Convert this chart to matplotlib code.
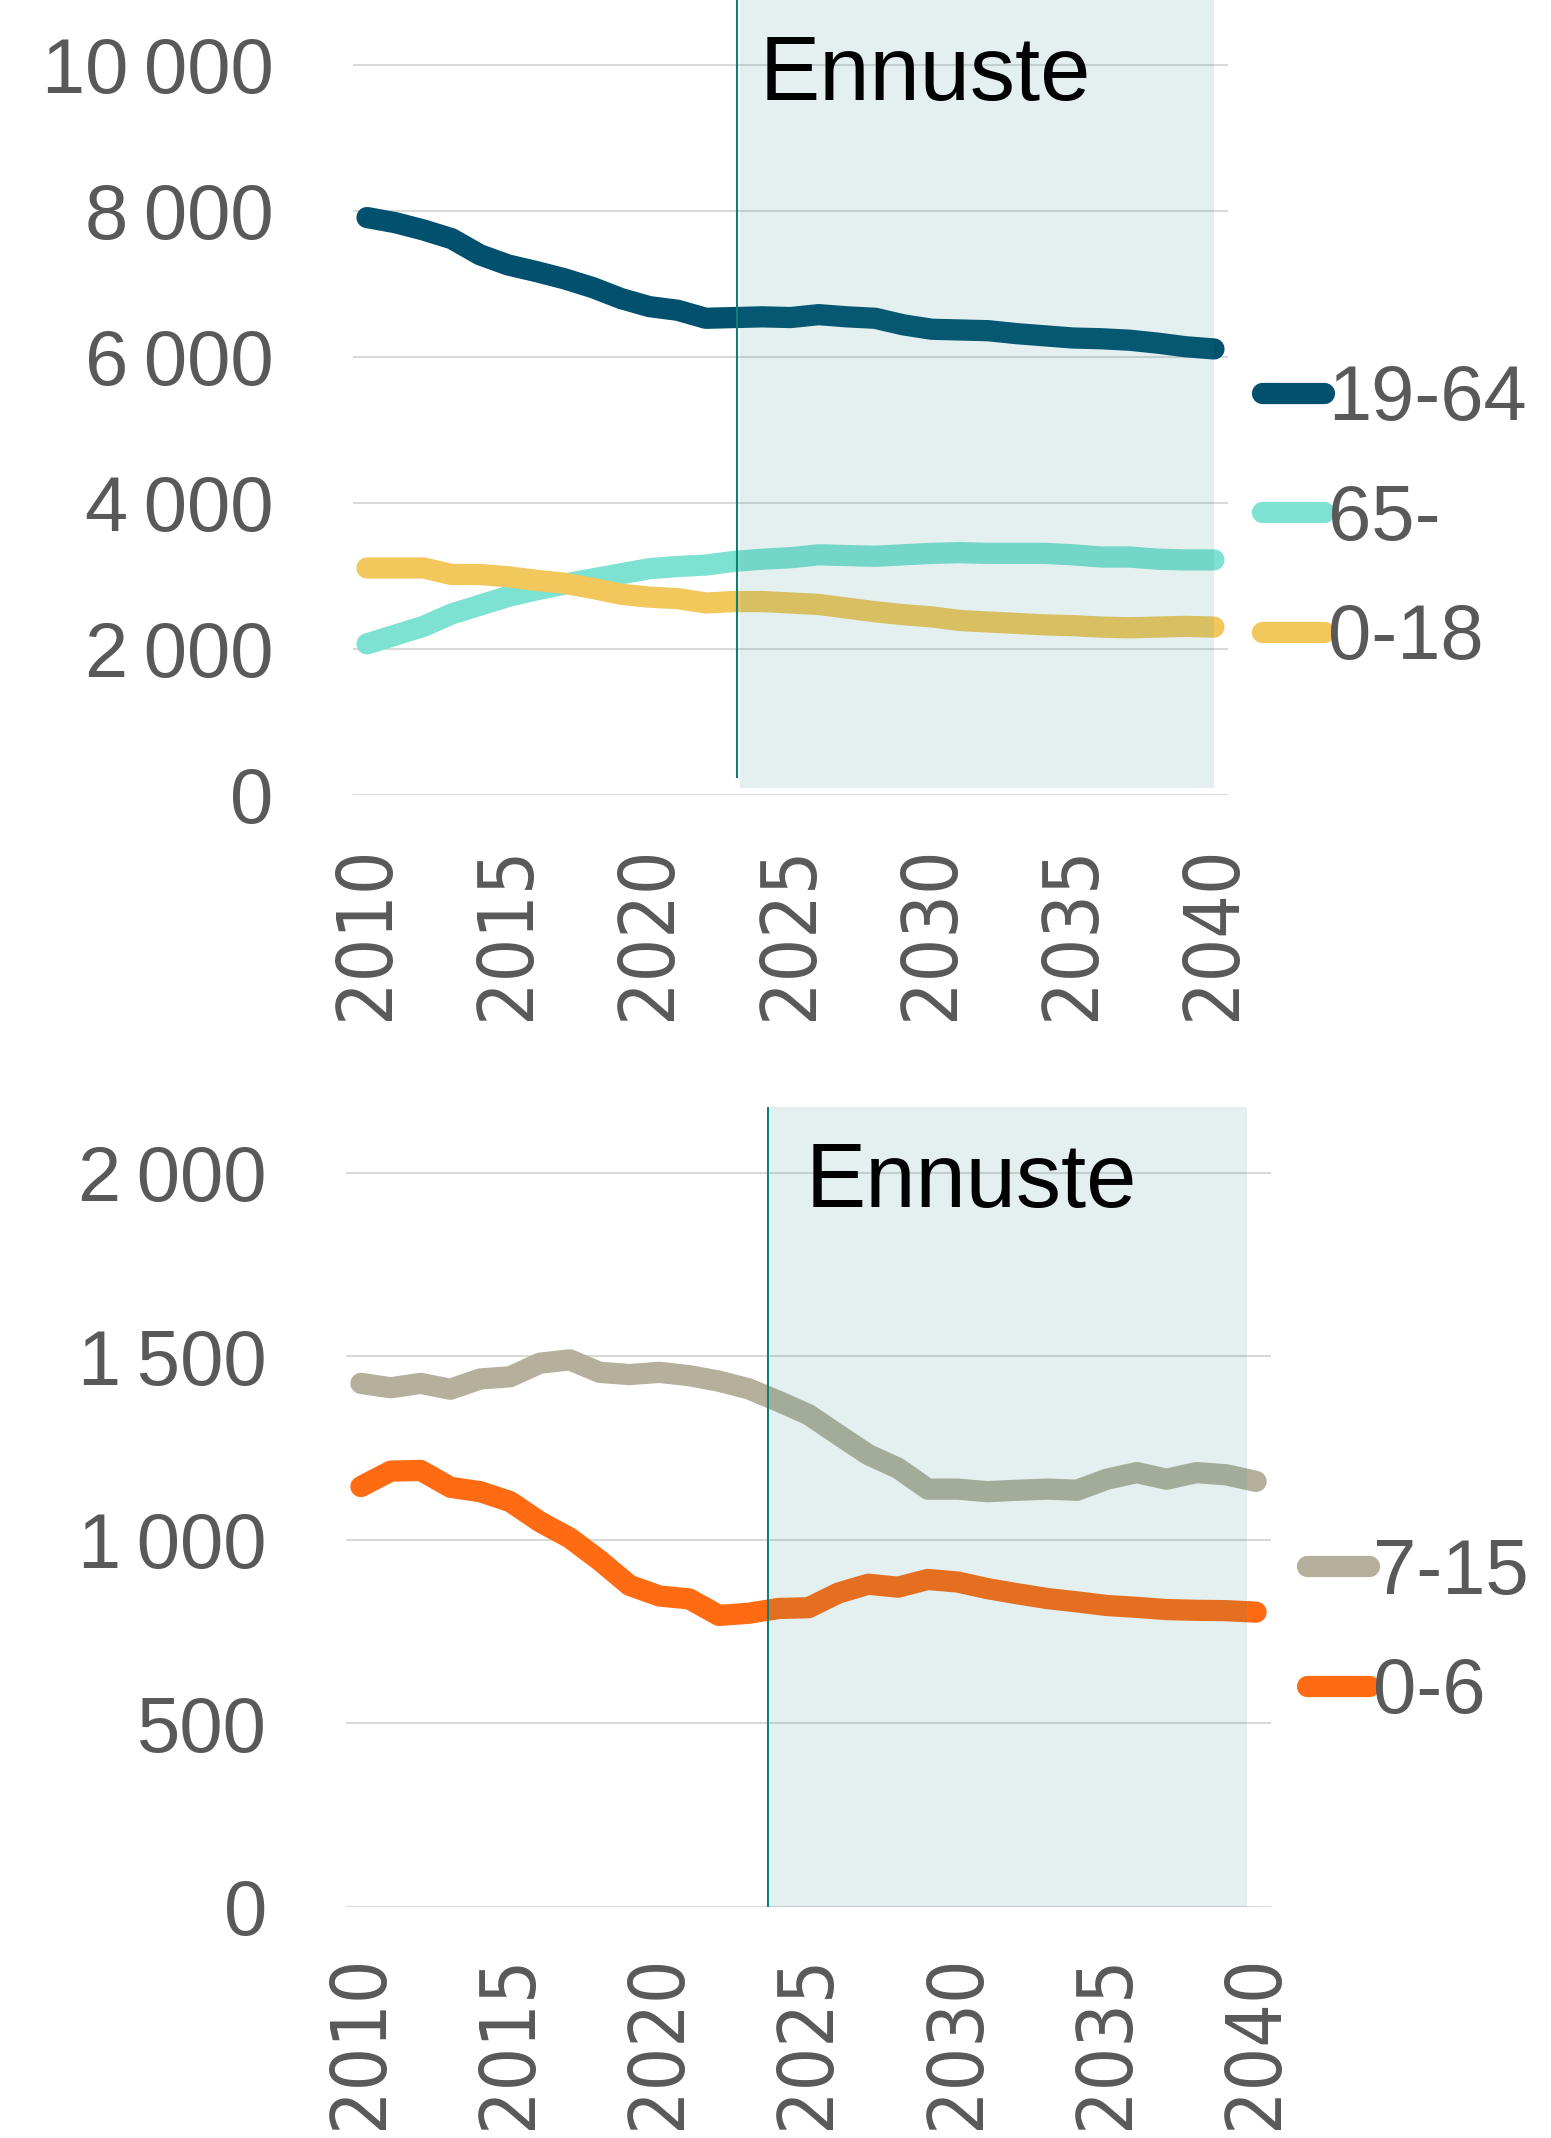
import matplotlib.pyplot as plt
from matplotlib.ticker import FuncFormatter

# ============== data =============

YEARS = list(range(2010, 2041))

# väestö ikäryhmittäin (ylempi kuva)
AGE_19_64 = [7910, 7840, 7740, 7620, 7400, 7260, 7170, 7070, 6950, 6800,
             6690, 6640, 6530, 6540, 6550, 6540, 6580, 6550, 6530, 6440,
             6380, 6370, 6360, 6320, 6290, 6260, 6250, 6230, 6190, 6140, 6110]
AGE_65 = [2070, 2190, 2310, 2480, 2600, 2720, 2810, 2890, 2960, 3030,
          3100, 3130, 3150, 3200, 3230, 3250, 3290, 3280, 3270, 3290,
          3310, 3320, 3310, 3310, 3310, 3290, 3260, 3260, 3230, 3220, 3220]
AGE_0_18 = [3110, 3110, 3110, 3020, 3020, 2990, 2940, 2900, 2830, 2750,
            2710, 2690, 2630, 2650, 2650, 2630, 2610, 2560, 2510, 2470,
            2440, 2390, 2370, 2350, 2330, 2320, 2300, 2290, 2300, 2310, 2300]

# lapset (alempi kuva)
AGE_7_15 = [1426, 1414, 1426, 1410, 1438, 1444, 1481, 1490, 1456, 1450,
            1456, 1447, 1432, 1411, 1377, 1341, 1286, 1232, 1195, 1138,
            1138, 1131, 1135, 1138, 1135, 1165, 1183, 1165, 1183, 1177, 1159]
AGE_0_6 = [1145, 1187, 1189, 1143, 1131, 1104, 1049, 1005, 944, 876,
           847, 839, 794, 800, 813, 815, 855, 879, 871, 892,
           885, 867, 853, 840, 831, 821, 816, 810, 808, 807, 803]

LABELS_TOP = ["19-64", "65-", "0-18"]
LABELS_BOTTOM = ["7-15", "0-6"]
FORECAST_LABEL = "Ennuste"

TOP_YTICKS = [0, 2000, 4000, 6000, 8000, 10000]
BOTTOM_YTICKS = [0, 500, 1000, 1500, 2000]
XTICKS = [2010, 2015, 2020, 2025, 2030, 2035, 2040]

# ============== styles =============

COLOR_19_64 = "#00506E"
COLOR_65 = "#7DE2D1"
COLOR_0_18 = "#F2C75C"
COLOR_7_15 = "#B5B09B"
COLOR_0_6 = "#FF6B12"

TEXT_GRAY = "#595959"
GRID_GRAY = "#D9D9D9"
SHADE_COLOR = "#308C8C"
SHADE_ALPHA = 0.13
VLINE_COLOR = "#0F7F76"

LINE_WIDTH = 15.3
TICK_SIZE = 56
YEAR_SIZE = 55
TITLE_SIZE = 65

plt.rcParams['font.family'] = ['Liberation Sans', 'DejaVu Sans']


def thousands(v, pos):
    s = f"{int(v):,}"
    return s.replace(",", "\u202f")


def setup_axes(ax, yticks, ylim, xpad, ypad):
    ax.set_xlim(2009.5, 2040.5)
    ax.set_ylim(*ylim)
    ax.set_yticks(yticks)
    ax.yaxis.set_major_formatter(FuncFormatter(thousands))
    ax.set_xticks(XTICKS)
    ax.set_xticklabels([str(y) for y in XTICKS], rotation=90, family='DejaVu Sans',
                       stretch='condensed', fontsize=YEAR_SIZE)
    ax.tick_params(axis='y', length=0, pad=ypad, labelsize=TICK_SIZE, labelcolor=TEXT_GRAY)
    ax.tick_params(axis='x', length=0, pad=xpad, labelcolor=TEXT_GRAY)
    for s in ax.spines.values():
        s.set_visible(False)
    ax.grid(axis='y', color=GRID_GRAY, linewidth=1.5)
    ax.grid(axis='x', visible=False)


def draw_series(ax, series, colors):
    handles = []
    for values, color in zip(series, colors):
        h, = ax.plot(YEARS, values, color=color, linewidth=LINE_WIDTH,
                     solid_capstyle='round', solid_joinstyle='round', zorder=2)
        handles.append(h)
    return handles


fig = plt.figure(figsize=(15.51, 21.38), dpi=100)

# ---------- ylempi: työikäiset, eläkeikäiset, alaikäiset ----------
axTop = fig.add_axes([352.9 / 1551, 1 - 795 / 2138, 875.2 / 1551, 795 / 2138])
setup_axes(axTop, TOP_YTICKS, (0, 10890), xpad=36, ypad=57)
topHandles = draw_series(axTop, [AGE_19_64, AGE_65, AGE_0_18],
                         [COLOR_19_64, COLOR_65, COLOR_0_18])
axTop.axvspan(2023.2, 2040.0, ymin=100 / 10890, ymax=1, color=SHADE_COLOR,
              alpha=SHADE_ALPHA, linewidth=0, zorder=3)
axTop.axvline(2023.1, ymin=246 / 10890, ymax=1, color=VLINE_COLOR, linewidth=1.5, zorder=4)
axTop.text(2023.9, 9520, FORECAST_LABEL, fontsize=TITLE_SIZE, color="black",
           ha='left', va='baseline', zorder=5)
axTop.legend(topHandles, LABELS_TOP, loc='center left',
             bbox_to_anchor=(1262 / 1551, 1 - 519 / 2138), bbox_transform=fig.transFigure,
             frameon=False, handlelength=0.8, handletextpad=0.05, labelspacing=0.6,
             borderpad=0, borderaxespad=0, fontsize=TICK_SIZE, labelcolor=TEXT_GRAY)

# ---------- alempi: lapset ----------
axBot = fig.add_axes([346 / 1551, 1 - 1907 / 2138, 925 / 1551, 800.5 / 2138])
setup_axes(axBot, BOTTOM_YTICKS, (0, 2180), xpad=34, ypad=57)
botHandles = draw_series(axBot, [AGE_7_15, AGE_0_6], [COLOR_7_15, COLOR_0_6])
axBot.axvspan(2023.7, 2039.7, ymin=0, ymax=1, color=SHADE_COLOR,
              alpha=SHADE_ALPHA, linewidth=0, zorder=3)
axBot.axvline(2023.65, ymin=0, ymax=1, color=VLINE_COLOR, linewidth=1.5, zorder=4)
axBot.text(2024.9, 1906, FORECAST_LABEL, fontsize=TITLE_SIZE, color="black",
           ha='left', va='baseline', zorder=5)
axBot.legend(botHandles, LABELS_BOTTOM, loc='center left',
             bbox_to_anchor=(1307 / 1551, 1 - 1633 / 2138), bbox_transform=fig.transFigure,
             frameon=False, handlelength=0.8, handletextpad=0.05, labelspacing=0.6,
             borderpad=0, borderaxespad=0, fontsize=TICK_SIZE, labelcolor=TEXT_GRAY)

plt.savefig("out.png", dpi=100)
